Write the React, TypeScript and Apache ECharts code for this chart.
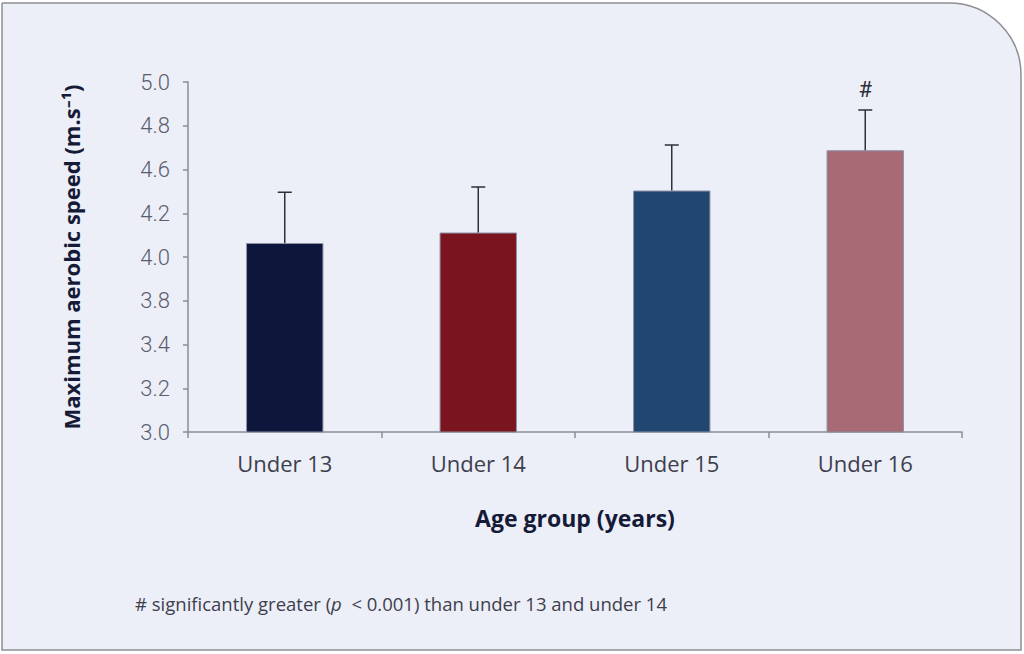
import React, { useEffect, useRef } from "react";
import * as echarts from "echarts";

const categories = ["Under 13", "Under 14", "Under 15", "Under 16"];
const means = [4.08, 4.14, 4.38, 4.61];
const upperErrors = [4.37, 4.4, 4.64, 4.84];
const markers = ["", "", "", "#"];
const barColors = ["#0c173b", "#7a141e", "#21466f", "#a86a74"];
const yTickLabels = ["3.0", "3.2", "3.4", "3.8", "4.0", "4.2", "4.6", "4.8", "5.0"];
const yMin = 3.0;
const yMax = 5.0;
const yStep = 0.25;

export default function App() {
  const ref = useRef<HTMLDivElement>(null);

  useEffect(() => {
    if (!ref.current) return;
    const chart = echarts.init(ref.current, null, { renderer: "svg" });
    const font = "'Open Sans', Roboto, sans-serif";
    const tickFont = "Roboto, 'Open Sans', sans-serif";

    const option: any = {
      animation: false,
      backgroundColor: "#ffffff",
      graphic: [
        {
          type: "rect",
          z: -10,
          shape: { x: 2, y: 3, width: 1019, height: 647, r: [0, 72, 0, 0] },
          style: { fill: "#eceef8", stroke: "#8e8e94", lineWidth: 1.5 },
        },
        {
          type: "text",
          x: 135,
          y: 603,
          style: {
            text: "{a|# significantly greater (}{i|p}{a|  < 0.001) than under 13 and under 14}",
            verticalAlign: "middle",
            rich: {
              a: { fontSize: 18.5, fontFamily: font, fill: "#3d404c", color: "#3d404c" },
              i: { fontSize: 18.5, fontFamily: font, fontStyle: "italic", fill: "#3d404c", color: "#3d404c" },
            },
          },
        },
      ],
      grid: { left: 188, right: 62, top: 82, bottom: 222, containLabel: false },
      xAxis: {
        type: "category",
        data: categories,
        name: "Age group (years)",
        nameLocation: "middle",
        nameGap: 74,
        nameTextStyle: { fontSize: 23, fontWeight: "bold", color: "#151a36", fontFamily: font },
        axisLine: { lineStyle: { color: "#8b8d98", width: 1.5 } },
        axisTick: { show: true, length: 6, lineStyle: { color: "#8b8d98", width: 1.5 } },
        axisLabel: { fontSize: 22, color: "#3d404c", fontFamily: font, margin: 20 },
      },
      yAxis: {
        type: "value",
        min: yMin,
        max: yMax,
        interval: yStep,
        name: "Maximum aerobic speed (m.s⁻¹)",
        nameLocation: "middle",
        nameGap: 106,
        nameTextStyle: { fontSize: 22, fontWeight: "bold", color: "#151a36", fontFamily: font },
        axisLine: { show: true, lineStyle: { color: "#8b8d98", width: 1.5 } },
        axisTick: { show: true, length: 5, lineStyle: { color: "#8b8d98", width: 1.5 } },
        splitLine: { show: false },
        axisLabel: {
          fontSize: 22,
          fontWeight: 300,
          color: "#5a5d6b",
          fontFamily: tickFont,
          margin: 18,
          formatter: (v: number) => yTickLabels[Math.round((v - yMin) / yStep)] ?? "",
        },
      },
      series: [
        {
          type: "bar",
          barWidth: "40%",
          data: means.map((v, i) => ({
            value: v,
            itemStyle: { color: barColors[i], borderColor: "#8d91a3", borderWidth: 1 },
          })),
          z: 2,
        },
        {
          type: "custom",
          z: 3,
          data: means.map((v, i) => [i, v, upperErrors[i]]),
          renderItem: (params: any, api: any) => {
            const idx = api.value(0);
            const base = api.coord([idx, api.value(1)]);
            const top = api.coord([idx, api.value(2)]);
            const half = 7;
            const children: any[] = [
              {
                type: "line",
                shape: { x1: base[0], y1: base[1], x2: top[0], y2: top[1] },
                style: { stroke: "#2e303a", lineWidth: 1.5 },
              },
              {
                type: "line",
                shape: { x1: top[0] - half, y1: top[1], x2: top[0] + half, y2: top[1] },
                style: { stroke: "#2e303a", lineWidth: 1.5 },
              },
            ];
            const m = markers[params.dataIndex];
            if (m) {
              children.push({
                type: "text",
                x: top[0],
                y: top[1] - 21,
                style: {
                  text: m,
                  fontSize: 22,
                  fontFamily: tickFont,
                  fill: "#2e303a",
                  align: "center",
                  verticalAlign: "middle",
                },
              });
            }
            return { type: "group", children };
          },
        },
      ],
    };

    chart.setOption(option);
    return () => chart.dispose();
  }, []);

  return (
    <div
      ref={ref}
      style={{ position: "fixed", left: 0, top: 0, width: 1024, height: 654 }}
    />
  );
}
